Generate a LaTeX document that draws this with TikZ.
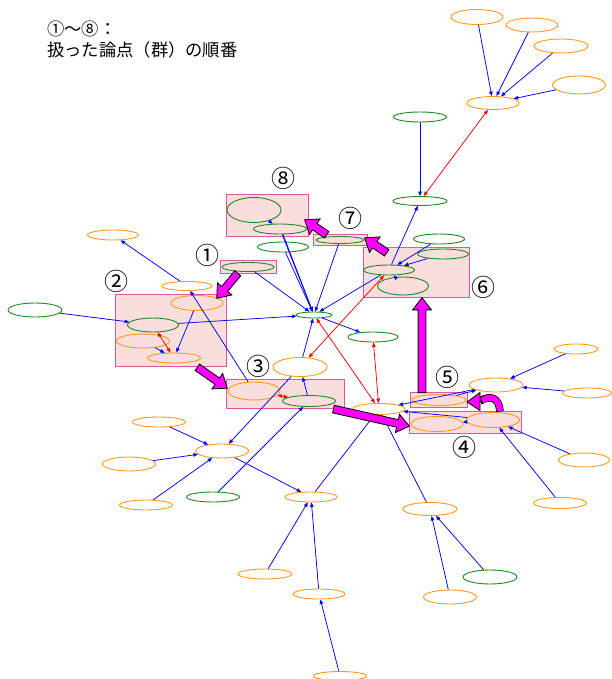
\documentclass[tikz,border=0pt]{standalone}
\usepackage{fontspec}
\newfontfamily\jp{Noto Sans CJK JP}
\usetikzlibrary{shapes.geometric,shapes.arrows,arrows.meta,calc}
\definecolor{oc}{HTML}{FF9A1F}
\definecolor{gc}{HTML}{1F8A1F}
\definecolor{bfill}{HTML}{F9DEDC}
\definecolor{bdraw}{HTML}{E0559F}
\definecolor{mag}{HTML}{FF00FF}
\definecolor{eb}{HTML}{0000FF}
\definecolor{er}{HTML}{FF0000}
\newcommand\blockarr[2]{\path let \p1=($(#2)-(#1)$), \n1={atan2(\y1,\x1)}, \n2={veclen(\x1,\y1)} in node[bigarr, anchor=tail, rotate=\n1, minimum height=\n2] at (#1) {};}
\begin{document}
\begin{tikzpicture}[x=1pt,y=-1pt,
 oe/.style={ellipse, draw=oc, line width=0.9pt, inner sep=0pt},
 ge/.style={ellipse, draw=gc, line width=0.9pt, inner sep=0pt},
 sz/.style args={#1/#2}{minimum width=#1pt, minimum height=#2pt},
 grp/.style={draw=bdraw, fill=bfill, line width=1pt},
 be/.style={draw=eb, line width=0.75pt, -{Triangle[length=4.5pt,width=3.6pt]}},
 re/.style={draw=er, line width=0.75pt, {Triangle[length=4.5pt,width=3.6pt]}-{Triangle[length=4.5pt,width=3.6pt]}},
 bigarr/.style={single arrow, draw=black, fill=mag, line width=0.8pt, inner sep=3.5pt, single arrow head extend=5.5pt, single arrow tip angle=75},
 num/.style={font=\jp\fontsize{24}{24}\selectfont, inner sep=0pt},
 ttl/.style={font=\jp\fontsize{17.3}{17.3}\selectfont, inner sep=0pt, anchor=west},
]
\useasboundingbox (0,0) rectangle (611,679);
\fill[white] (0,0) rectangle (611,679);

% group boxes
\draw[grp] (226,194) rectangle (308,236);
\draw[grp] (313,234) rectangle (367,245);
\draw[grp] (363,247) rectangle (469,297);
\draw[grp] (220,260) rectangle (276,273);
\draw[grp] (115,294) rectangle (226,366);
\draw[grp] (226,379) rectangle (344,408);
\draw[grp] (410,392) rectangle (467,407);
\draw[grp] (409,411) rectangle (521,433);

% nodes
\node[oe, sz=52/15] (t1) at (477,17) {};
\node[oe, sz=52/14] (t2) at (532,25) {};
\node[oe, sz=54/14] (t3) at (561,46) {};
\node[oe, sz=53/18] (t4) at (579,85) {};
\node[oe, sz=52/13] (h1) at (493,103) {};
\node[ge, sz=53/10] (g1) at (420,117) {};
\node[ge, sz=54/9] (g2) at (420,201) {};
\node[ge, sz=54/25] (b8a) at (254,210) {};
\node[ge, sz=53/10] (b8b) at (280,229) {};
\node[ge, sz=51/10] (g8c) at (283,247) {};
\node[ge, sz=48/7] (b7) at (340,240) {};
\node[ge, sz=51/10] (b6a) at (439,239) {};
\node[ge, sz=51/10] (b6b) at (443,254) {};
\node[ge, sz=51/10] (b6c) at (389,270) {};
\node[ge, sz=51/18] (b6d) at (403,286) {};
\node[ge, sz=52/9] (b1) at (248,267) {};
\node[ge, sz=36/6] (c) at (314,315) {};
\node[oe, sz=51/10] (o1) at (113,235) {};
\node[oe, sz=50/9] (o2) at (187,286) {};
\node[ge, sz=54/14] (gL) at (35,310) {};
\node[oe, sz=52/15] (b2a) at (197,303) {};
\node[ge, sz=51/14] (b2b) at (153,325) {};
\node[oe, sz=53/14] (b2c) at (143,341) {};
\node[oe, sz=53/10] (b2d) at (174,358) {};
\node[oe, sz=54/19] (o3) at (300,367) {};
\node[oe, sz=52/18] (b3a) at (254,391) {};
\node[ge, sz=53/11] (b3b) at (309,401) {};
\node[ge, sz=50/10] (gR) at (373,337) {};
\node[oe, sz=52/11] (B) at (379,409) {};
\node[oe, sz=54/11] (b5) at (439,400) {};
\node[oe, sz=52/15] (b4a) at (437,424) {};
\node[oe, sz=53/15] (b4b) at (493,420) {};
\node[oe, sz=54/14] (o4) at (496,385) {};
\node[oe, sz=44/10] (r1) at (576,349) {};
\node[oe, sz=49/10] (r2) at (587,393) {};
\node[oe, sz=51/14] (r3) at (584,460) {};
\node[oe, sz=53/11] (r4) at (560,503) {};
\node[oe, sz=53/14] (D) at (222,451) {};
\node[oe, sz=53/10] (d1) at (159,422) {};
\node[oe, sz=53/14] (d2) at (129,464) {};
\node[oe, sz=53/10] (d3) at (146,505) {};
\node[ge, sz=53/10] (gD) at (213,497) {};
\node[oe, sz=52/10] (E) at (311,497) {};
\node[oe, sz=54/13] (F) at (430,509) {};
\node[oe, sz=54/10] (e1) at (265,574) {};
\node[oe, sz=52/10] (G) at (319,594) {};
\node[oe, sz=53/9] (Gb) at (340,676) {};
\node[oe, sz=53/14] (f1) at (450,597) {};
\node[ge, sz=54/14] (gF) at (490,577) {};

% blue edges
\foreach \s in {t1,t2,t3,t4} \draw[be] (\s) -- (h1);
\draw[be] (g1) -- (g2);
\draw[be] (b6c) -- (g2);
\draw[be] (b6a) -- (b6c);
\draw[be] (b6b) -- (b6c);
\draw[be] (b6d) -- (b6c);
\draw[be] (b6c) -- (c);
\draw[be] (b8a) -- (b8b);
\draw[be] (b8b) -- (c);
\draw[be] ([xshift=3pt]b8b.south) -- (c);
\draw[be] (g8c) -- (c);
\draw[be] (b7) -- (c);
\draw[be] (b1) -- (c);
\draw[be] (b2b) -- (c);
\draw[be] (gL) -- (b2b);
\draw[be] (o2) -- (o1);
\draw[be] (b3a) -- (o2);
\draw[be] (b2a) -- (b2d);
\draw[be] (b2c) -- (b2d);
\draw[be] (c) -- (gR);
\draw[be] (o3) -- (c);
\draw[be] (o3) -- (D);
\draw[be] (b3b) -- (o3);
\draw[be] (gD) -- (b3b);
\draw[be] (d1) -- (D);
\draw[be] (d2) -- (D);
\draw[be] (d3) -- (D);
\draw[be] (D) -- (E);
\draw[be] (e1) -- (E);
\draw[be] (G) -- (E);
\draw[be] (Gb) -- (G);
\draw[be] (f1) -- (F);
\draw[be] (gF) -- (F);
\draw[be] (E) -- (B);
\draw[be] (F) -- (B);
\draw[be] (b4b) -- (B);
\draw[be] (b4b) -- (b4a);
\draw[be] (o4) -- (B);
\draw[be] (b5) -- (o4);
\draw[be] (r1) -- (o4);
\draw[be] (r2) -- (o4);
\draw[be] (r3) -- (b4b);
\draw[be] (r4) -- (b4b);

% red edges
\draw[re] (h1) -- (g2);
\draw[re] (b6c) -- (o3);
\draw[re] (c) -- (B);
\draw[re] (gR) -- (B);
\draw[re] (b3a) -- (b3b);
\draw[re] (b2b) -- (b2d);

% block arrows
\coordinate (a1s) at (238,273); \coordinate (a1e) at (217,298);
\coordinate (a2s) at (197,367); \coordinate (a2e) at (227,388);
\coordinate (a3s) at (333,409); \coordinate (a3e) at (409,426);
\coordinate (a5s) at (422,393); \coordinate (a5e) at (422,298);
\coordinate (a6s) at (387,253); \coordinate (a6e) at (365,238);
\coordinate (a7s) at (327,235); \coordinate (a7e) at (305,220);
\blockarr{a1s}{a1e}
\blockarr{a2s}{a2e}
\blockarr{a3s}{a3e}
\blockarr{a5s}{a5e}
\blockarr{a6s}{a6e}
\blockarr{a7s}{a7e}
% curved arrow 4 -> 5
\coordinate (a4s) at (500,411.5); \coordinate (a4b) at (480,401); \coordinate (a4t) at (467,402);
\draw[black, line width=7.6pt] (a4s) .. controls (499,397) and (490,395) .. (a4b);
\filldraw[fill=mag, draw=black, line width=0.8pt] (480,392.5) -- (a4t) -- (480,410.5) -- cycle;
\draw[mag, line width=6pt] (500,411) .. controls (499,397) and (490,395) .. (482,400.8);

% numbers
\node[num] (n1) at (207,255) {①};
\node[num] (n2) at (116,281) {②};
\node[num] (n3) at (258,366) {③};
\node[num] (n4) at (464,447) {④};
\node[num] (n5) at (447,377) {⑤};
\node[num] (n6) at (483,287) {⑥};
\node[num] (n7) at (350,218) {⑦};
\node[num] (n8) at (283,178) {⑧};

% title
\node[ttl] (title1) at (47,29) {①～⑧：};
\node[ttl] (title2) at (47,50) {扱った論点（群）の順番};
\end{tikzpicture}
\end{document}
